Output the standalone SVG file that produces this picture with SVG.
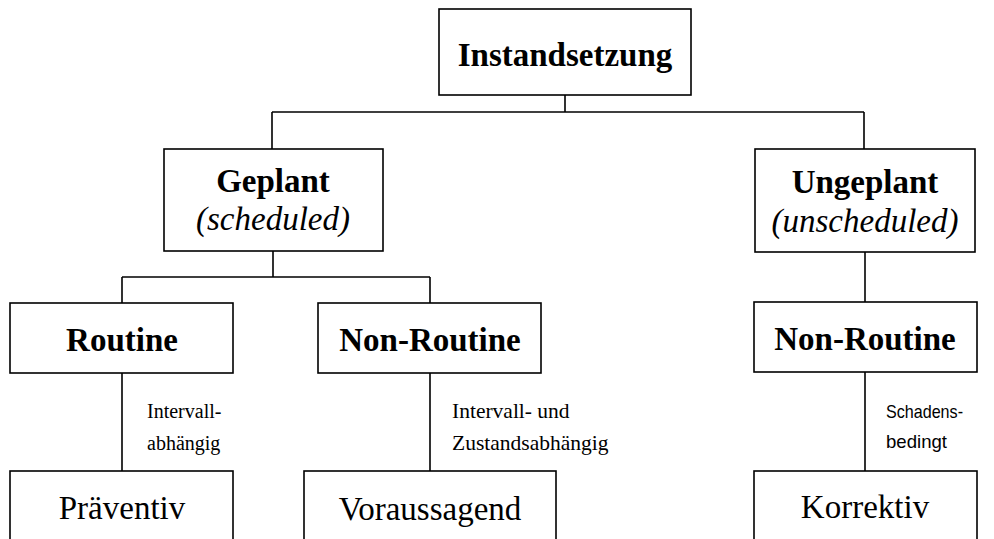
<svg xmlns="http://www.w3.org/2000/svg" width="994" height="539" viewBox="0 0 994 539">
  <style>
    .box { fill: #ffffff; stroke: #000000; stroke-width: 1.6; }
    .link { fill: none; stroke: #000000; stroke-width: 1.6; }
    .head { font-family: "Liberation Serif", "Times New Roman", serif; font-weight: bold; font-size: 33px; text-anchor: middle; fill: #000; }
    .sub { font-family: "Liberation Serif", "Times New Roman", serif; font-style: italic; font-size: 33px; text-anchor: middle; fill: #000; }
    .leaf { font-family: "Liberation Serif", "Times New Roman", serif; font-size: 33px; text-anchor: middle; fill: #000; }
    .note { font-family: "Liberation Serif", "Times New Roman", serif; font-size: 20px; fill: #000; }
    .note-wide { font-family: "Liberation Serif", "Times New Roman", serif; font-size: 21.5px; fill: #000; }
    .note-sans { font-family: "Liberation Sans", Arial, sans-serif; font-size: 19px; fill: #000; }
  </style>
  <rect width="994" height="539" fill="#ffffff"/>

  <g id="connectors">
    <path class="link" d="M565 95 V112 M272 112 H864 M272 112 V149 M864 112 V149"/>
    <path class="link" d="M273 251 V277 M122 277 H430 M122 277 V303 M430 277 V303"/>
    <path class="link" d="M865 252 V302"/>
    <path class="link" d="M122 373 V471 M430 373 V471 M865 372 V471"/>
  </g>

  <g id="instandsetzung">
    <rect class="box" x="439" y="9" width="252" height="86"/>
    <text class="head" x="565" y="66">Instandsetzung</text>
  </g>

  <g id="geplant">
    <rect class="box" x="164" y="149" width="219" height="102"/>
    <text class="head" x="273" y="192">Geplant</text>
    <text class="sub" x="273" y="230">(scheduled)</text>
  </g>

  <g id="ungeplant">
    <rect class="box" x="755" y="149" width="220" height="103"/>
    <text class="head" x="865" y="193">Ungeplant</text>
    <text class="sub" x="865" y="232">(unscheduled)</text>
  </g>

  <g id="routine">
    <rect class="box" x="10" y="303" width="223" height="70"/>
    <text class="head" x="122" y="351">Routine</text>
  </g>

  <g id="non-routine-geplant">
    <rect class="box" x="318" y="303" width="223" height="70"/>
    <text class="head" x="430" y="351">Non-Routine</text>
  </g>

  <g id="non-routine-ungeplant">
    <rect class="box" x="754" y="302" width="223" height="70"/>
    <text class="head" x="865" y="350">Non-Routine</text>
  </g>

  <g id="label-intervall">
    <text class="note" x="147" y="418">Intervall-</text>
    <text class="note" x="147" y="450">abhängig</text>
  </g>

  <g id="label-zustand">
    <text class="note-wide" x="452" y="418">Intervall- und</text>
    <text class="note-wide" x="452" y="450">Zustandsabhängig</text>
  </g>

  <g id="label-schaden">
    <text class="note-sans" x="886" y="418" textLength="77" lengthAdjust="spacingAndGlyphs">Schadens-</text>
    <text class="note-sans" x="886" y="448" textLength="61" lengthAdjust="spacingAndGlyphs">bedingt</text>
  </g>

  <g id="praeventiv">
    <rect class="box" x="10" y="471" width="223" height="80"/>
    <text class="leaf" x="122" y="519">Präventiv</text>
  </g>

  <g id="voraussagend">
    <rect class="box" x="304" y="471" width="252" height="80"/>
    <text class="leaf" x="430" y="520">Voraussagend</text>
  </g>

  <g id="korrektiv">
    <rect class="box" x="754" y="471" width="223" height="80"/>
    <text class="leaf" x="865" y="518">Korrektiv</text>
  </g>
</svg>
